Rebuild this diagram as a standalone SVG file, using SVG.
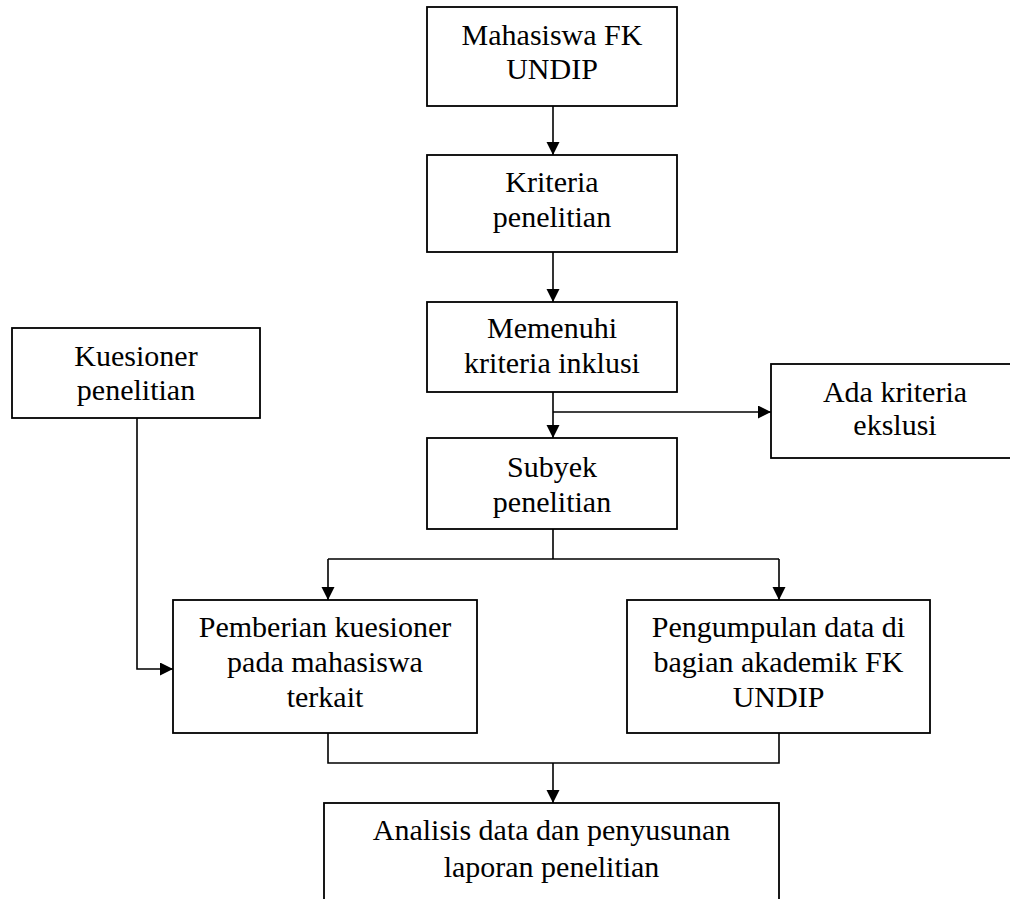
<svg xmlns="http://www.w3.org/2000/svg" width="1010" height="899" viewBox="0 0 1010 899">
<style>
.box{fill:#fff;stroke:#000;stroke-width:1.8}
.t{font-family:"Liberation Serif","Times New Roman",serif;font-size:30px;fill:#000;text-anchor:middle}
.c{fill:none;stroke:#000;stroke-width:1.6}
</style>
<defs>
<marker id="ah" markerUnits="userSpaceOnUse" markerWidth="14" markerHeight="14" refX="13" refY="6.5" orient="auto">
<path d="M0,0 L13,6.5 L0,13 Z" fill="#000"/>
</marker>
</defs>
<rect width="1010" height="899" fill="#fff"/>
<g id="n1"><rect class="box" x="427" y="7" width="250" height="99"/>
<text class="t" x="552" y="45">Mahasiswa FK</text><text class="t" x="552" y="79">UNDIP</text></g>
<g id="n2"><rect class="box" x="427" y="155" width="250" height="97"/>
<text class="t" x="552" y="192">Kriteria</text><text class="t" x="552" y="227">penelitian</text></g>
<g id="n3"><rect class="box" x="427" y="302" width="250" height="90"/>
<text class="t" x="552" y="338">Memenuhi</text><text class="t" x="552" y="373">kriteria inklusi</text></g>
<g id="n4"><rect class="box" x="771" y="364" width="250" height="94"/>
<text class="t" x="895" y="402">Ada kriteria</text><text class="t" x="895" y="435">ekslusi</text></g>
<g id="n5"><rect class="box" x="12" y="328" width="248" height="90"/>
<text class="t" x="136" y="366">Kuesioner</text><text class="t" x="136" y="400">penelitian</text></g>
<g id="n6"><rect class="box" x="427" y="438" width="250" height="91"/>
<text class="t" x="552" y="477">Subyek</text><text class="t" x="552" y="512">penelitian</text></g>
<g id="n7"><rect class="box" x="173" y="600" width="304" height="133"/>
<text class="t" x="325" y="637">Pemberian kuesioner</text><text class="t" x="325" y="672">pada mahasiswa</text><text class="t" x="325" y="707">terkait</text></g>
<g id="n8"><rect class="box" x="627" y="600" width="303" height="133"/>
<text class="t" x="778.5" y="637">Pengumpulan data di</text><text class="t" x="778.5" y="672">bagian akademik FK</text><text class="t" x="778.5" y="707">UNDIP</text></g>
<g id="n9"><rect class="box" x="324" y="803" width="455" height="110"/>
<text class="t" x="551.5" y="840">Analisis data dan penyusunan</text><text class="t" x="551.5" y="877">laporan penelitian</text></g>
<g id="connectors">
<path class="c" d="M553,106 V155" marker-end="url(#ah)"/>
<path class="c" d="M553,252 V302" marker-end="url(#ah)"/>
<path class="c" d="M553,392 V438" marker-end="url(#ah)"/>
<path class="c" d="M553,412 H771" marker-end="url(#ah)"/>
<path class="c" d="M553,529 V559 M328,559 H779"/>
<path class="c" d="M328,559 V600" marker-end="url(#ah)"/>
<path class="c" d="M779,559 V600" marker-end="url(#ah)"/>
<path class="c" d="M137,418 V669 H173" marker-end="url(#ah)"/>
<path class="c" d="M328,733 V763 H779 V733"/>
<path class="c" d="M553,763 V803" marker-end="url(#ah)"/>
</g>
</svg>
